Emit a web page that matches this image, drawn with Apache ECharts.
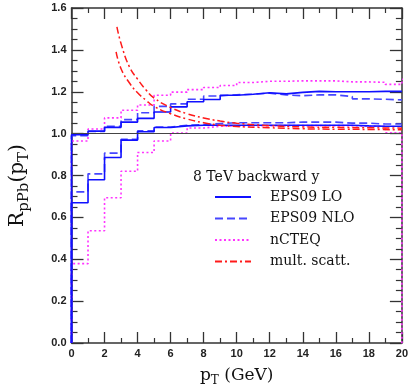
<!DOCTYPE html>
<html>
<head>
<meta charset="utf-8">
<script src="https://cdn.jsdelivr.net/npm/echarts@6/dist/echarts.min.js"></script>
<style>
html,body{margin:0;padding:0;background:#fff;}
#chart{width:411px;height:392px;}
</style>
</head>
<body>
<div id="chart"></div>
<script>
// ---- data ----
const binEdges = [0,1,2,3,4,5,6,7,8,9,10,11,12,13,14,15,16,17,18,19,20];

const eps09LoLower  = [0.670,0.780,0.886,0.969,1.009,1.029,1.037,1.040,1.040,1.040,1.040,1.040,1.040,1.040,1.040,1.040,1.040,1.037,1.035,1.035];
const eps09LoUpper  = [0.995,1.012,1.030,1.055,1.073,1.103,1.128,1.152,1.163,1.183,1.188,1.195,1.190,1.197,1.202,1.200,1.200,1.200,1.202,1.202];
const eps09NloLower = [0.722,0.808,0.907,0.973,1.013,1.032,1.040,1.043,1.048,1.052,1.052,1.052,1.052,1.055,1.055,1.055,1.050,1.050,1.046,1.046];
const eps09NloUpper = [0.990,1.010,1.035,1.067,1.100,1.130,1.142,1.164,1.180,1.186,1.188,1.193,1.185,1.181,1.185,1.185,1.177,1.166,1.164,1.161];
const ncteqLower    = [0.379,0.536,0.694,0.820,0.910,0.965,1.003,1.027,1.035,1.037,1.038,1.038,1.038,1.038,1.038,1.038,1.038,1.036,1.035,1.004];
const ncteqUpper    = [0.965,1.022,1.075,1.112,1.137,1.183,1.198,1.210,1.220,1.230,1.244,1.250,1.250,1.252,1.252,1.252,1.247,1.247,1.245,1.235];
const ncteqLowerEdge = 0.0;   // value just past x = 20
const ncteqUpperEdge = 1.26;

const msUpperX = [2.75,3.0,3.5,4.0,4.5,5.0,6.0,7.0,8.0,9.0,10,12,14,16,18,20];
const msUpperY = [1.51,1.43,1.32,1.26,1.21,1.17,1.125,1.095,1.075,1.06,1.05,1.038,1.032,1.03,1.028,1.026];
const msLowerX = [2.7,3.0,3.5,4.0,4.5,5.0,6.0,7.0,8.0,9.0,10,12,14,16,18,20];
const msLowerY = [1.39,1.31,1.243,1.195,1.16,1.13,1.095,1.07,1.052,1.04,1.034,1.028,1.023,1.021,1.02,1.018];

const xTicks = {min:0, max:20, interval:2};
const yTicks = {min:0, max:1.6, interval:0.2};
const legendTitle = '8 TeV backward y';
const names = ['EPS09 LO','EPS09 NLO','nCTEQ','mult. scatt.'];

// ---- helpers ----
function histPoints(vals, edgeVal) {
  const pts = [[binEdges[0], 0]];
  vals.forEach((v,i) => pts.push([binEdges[i], v]));
  const n = vals.length;
  if (edgeVal !== undefined) {
    pts.push([binEdges[n], edgeVal]);
    pts.push([binEdges[n] + 1, edgeVal]);
  } else {
    pts.push([binEdges[n], vals[n-1]]);
  }
  return pts;
}
function curvePoints(xs, ys) { return xs.map((x,i) => [x, ys[i]]); }

const BLUE = '#1010ff', BLUE2 = '#4646ff', MAG = '#ff33ff', RED = '#ff1a1a';
const serif = 'DejaVu Serif';

function hist(name, vals, color, type, edge, z) {
  return {
    name, type:'line', step:'end', symbol:'none', z,
    data: histPoints(vals, edge),
    lineStyle:{color, width:1.6, type},
    itemStyle:{color},
    animation:false
  };
}
function curve(name, xs, ys) {
  return {
    name, type:'line', smooth:true, symbol:'none', z:6,
    data: curvePoints(xs, ys),
    lineStyle:{color:RED, width:1.5, type:[7,3,2,3]},
    itemStyle:{color:RED},
    animation:false
  };
}

const tickLabel = {fontFamily:'Liberation Sans', fontWeight:'bold', fontSize:11, color:'#222'};
const axisLine = {show:true, onZero:false, lineStyle:{color:'#333', width:1.5}};
const xTick = {inside:true, length:11, lineStyle:{color:'#333', width:1.3}};
const xMinor = {show:true, splitNumber:2, length:5, lineStyle:{color:'#333', width:1.2}};
const yTick = {inside:true, length:12, lineStyle:{color:'#333', width:1.3}};
const yMinor = {show:true, splitNumber:4, length:6, lineStyle:{color:'#333', width:1.2}};

const chart = echarts.init(document.getElementById('chart'), null, {renderer:'canvas'});
chart.setOption({
  animation:false,
  backgroundColor:'#fff',
  grid:{left:62, right:9, top:8, bottom:45.5},
  title:{
    text: legendTitle, left:193, top:170, padding:0,
    textStyle:{fontFamily:serif, fontSize:14, fontWeight:'normal', color:'#111'}
  },
  legend:{
    data: names, orient:'vertical', left:214, top:190, padding:0,
    itemWidth:36, itemHeight:14, itemGap:7.5,
    itemStyle:{opacity:0},
    textStyle:{fontFamily:serif, fontSize:14, color:'#111', padding:[0,0,0,14]}
  },
  xAxis:[{
    type:'value', min:xTicks.min, max:xTicks.max, interval:xTicks.interval,
    axisLine, splitLine:{show:false}, axisTick:xTick, minorTick:xMinor,
    axisLabel:Object.assign({margin:5}, tickLabel),
    name:'{a|p}{b|T}{a| (GeV)}', nameLocation:'middle', nameGap:22,
    nameTextStyle:{rich:{
      a:{fontFamily:serif, fontSize:17, color:'#111'},
      b:{fontFamily:serif, fontSize:12, color:'#111', padding:[10,0,0,0]}
    }}
  },{
    type:'value', position:'top', min:xTicks.min, max:xTicks.max, interval:xTicks.interval,
    axisLine, splitLine:{show:false}, axisLabel:{show:false},
    axisTick:xTick, minorTick:xMinor
  }],
  yAxis:[{
    type:'value', min:yTicks.min, max:yTicks.max, interval:yTicks.interval,
    axisLine, splitLine:{show:false}, axisTick:yTick, minorTick:yMinor,
    axisLabel:Object.assign({margin:5, formatter:v => v.toFixed(1)}, tickLabel),
    name:'{a|R}{b|pPb}{a|(p}{b|T}{a|)}', nameLocation:'middle', nameGap:40, nameRotate:90,
    nameTextStyle:{padding:[0,20,0,0], rich:{
      a:{fontFamily:serif, fontSize:20, color:'#111'},
      b:{fontFamily:serif, fontSize:15, color:'#111', padding:[12,0,0,0]}
    }}
  },{
    type:'value', position:'right', min:yTicks.min, max:yTicks.max, interval:yTicks.interval,
    axisLine, splitLine:{show:false}, axisLabel:{show:false},
    axisTick:yTick, minorTick:yMinor
  }],
  series:[
    Object.assign(hist(names[2], ncteqLower, MAG, [2,2.5], ncteqLowerEdge, 2), {
      markLine:{silent:true, symbol:'none', label:{show:false},
        lineStyle:{color:'#444', width:1, type:'solid'}, data:[{yAxis:1}]}
    }),
    hist(names[2], ncteqUpper, MAG, [2,2.5], ncteqUpperEdge, 2),
    hist(names[1], eps09NloLower, BLUE2, [8,4], undefined, 3),
    hist(names[1], eps09NloUpper, BLUE2, [8,4], undefined, 3),
    hist(names[0], eps09LoLower, BLUE, 'solid', undefined, 4),
    hist(names[0], eps09LoUpper, BLUE, 'solid', undefined, 4),
    curve(names[3], msUpperX, msUpperY),
    curve(names[3], msLowerX, msLowerY)
  ]
});
</script>
</body>
</html>
